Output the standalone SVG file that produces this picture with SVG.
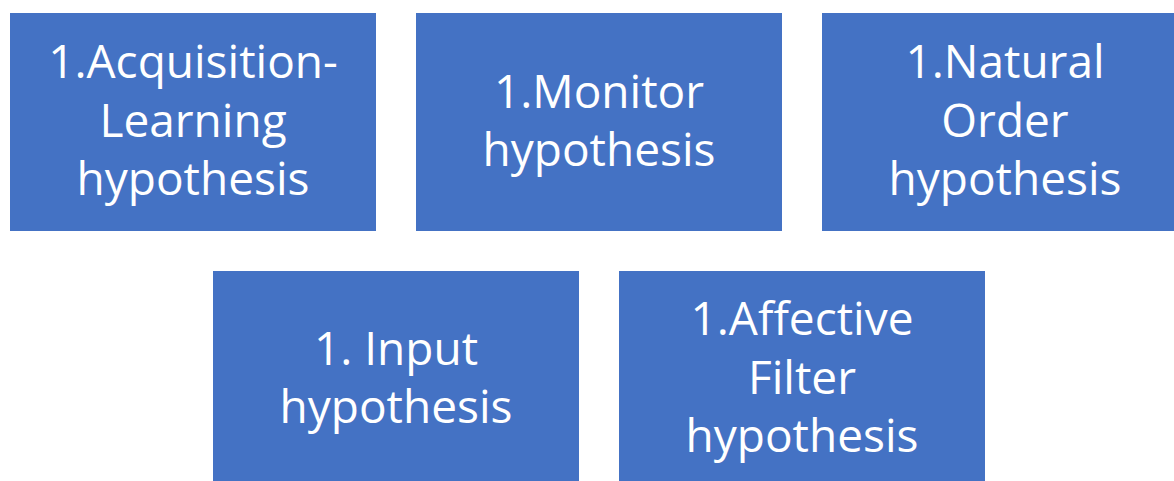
<svg xmlns="http://www.w3.org/2000/svg" width="1174" height="481" viewBox="0 0 1174 481">
  <style>
    .box { fill: #4472C4; }
    .lbl { font-family: "Open Sans", "Noto Sans", sans-serif; font-size: 46px; fill: #FFFFFF; text-anchor: middle; }
  </style>
  <rect width="1174" height="481" fill="#FFFFFF"/>
  <g id="node-acquisition">
    <rect class="box" x="10" y="13" width="366" height="218"/>
    <text class="lbl" x="193" y="78">1.Acquisition-</text>
    <text class="lbl" x="193" y="137">Learning</text>
    <text class="lbl" x="193" y="195">hypothesis</text>
  </g>
  <g id="node-monitor">
    <rect class="box" x="416" y="13" width="366" height="218"/>
    <text class="lbl" x="599" y="108">1.Monitor</text>
    <text class="lbl" x="599" y="166">hypothesis</text>
  </g>
  <g id="node-natural-order">
    <rect class="box" x="822" y="13" width="366" height="218"/>
    <text class="lbl" x="1005" y="78">1.Natural</text>
    <text class="lbl" x="1005" y="137">Order</text>
    <text class="lbl" x="1005" y="195">hypothesis</text>
  </g>
  <g id="node-input">
    <rect class="box" x="213" y="271" width="366" height="218"/>
    <text class="lbl" x="396" y="365">1. Input</text>
    <text class="lbl" x="396" y="423">hypothesis</text>
  </g>
  <g id="node-affective-filter">
    <rect class="box" x="619" y="271" width="366" height="218"/>
    <text class="lbl" x="802" y="335">1.Affective</text>
    <text class="lbl" x="802" y="394">Filter</text>
    <text class="lbl" x="802" y="452">hypothesis</text>
  </g>
  <g id="connectors"></g>
</svg>
